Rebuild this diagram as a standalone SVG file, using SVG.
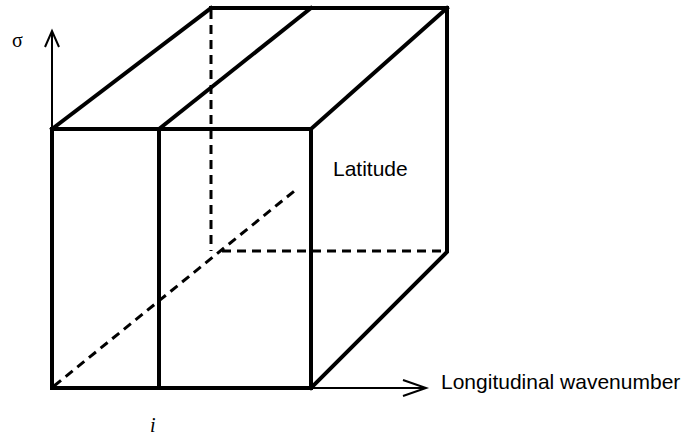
<svg xmlns="http://www.w3.org/2000/svg" width="686" height="435" viewBox="0 0 686 435">
<style>
.thick{stroke:#000;stroke-width:4;fill:none;stroke-linecap:square;stroke-linejoin:miter}
.dash{stroke:#000;stroke-width:3;fill:none;stroke-dasharray:9 6}
.axis{stroke:#000;stroke-width:2;fill:none}
.sans{font-family:"Liberation Sans",Arial,sans-serif;font-size:21px;fill:#000}
.serif{font-family:"Liberation Serif","Times New Roman",serif;font-size:20px;fill:#000}
</style>
<rect width="686" height="435" fill="#fff"/>
<g id="connectors">
<line class="dash" x1="211" y1="10" x2="211" y2="251"/>
<line class="dash" x1="222" y1="251" x2="447" y2="251"/>
<line class="dash" x1="54" y1="386" x2="298" y2="188"/>
<line class="axis" x1="52" y1="129" x2="52" y2="31"/>
<polyline class="axis" points="45,47 52,31 59,47"/>
<line class="axis" x1="311" y1="388" x2="426" y2="388"/>
<polyline class="axis" points="403,380 426,388 403,396"/>
</g>
<g id="cube">
<polyline class="thick" points="52,388 52,129 311,129 311,388 52,388"/>
<line class="thick" x1="159" y1="129" x2="159" y2="388"/>
<line class="thick" x1="52" y1="129" x2="211" y2="8"/>
<line class="thick" x1="159" y1="129" x2="311" y2="8"/>
<line class="thick" x1="311" y1="129" x2="447" y2="8"/>
<polyline class="thick" points="211,8 447,8 447,252 311,388"/>
</g>
<g id="label-sigma"><text class="serif" x="12" y="47">σ</text></g>
<g id="label-latitude"><text class="sans" x="333" y="176">Latitude</text></g>
<g id="label-longitudinal"><text class="sans" x="441" y="389">Longitudinal wavenumber</text></g>
<g id="label-i"><text class="serif" x="150" y="432" font-style="italic">i</text></g>
</svg>
